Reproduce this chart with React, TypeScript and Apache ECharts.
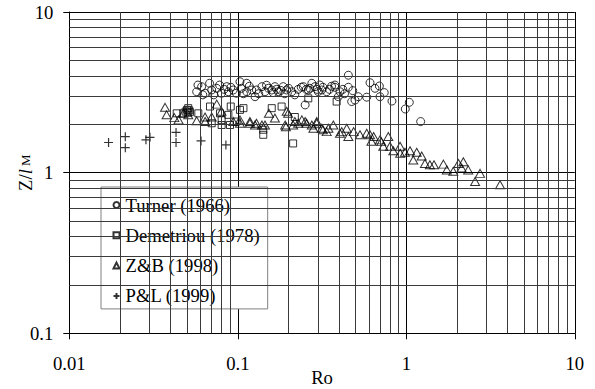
import React, { useEffect, useRef } from "react";
import * as echarts from "echarts";

// ---- data ----
const turnerRo = [0.058,0.057,0.061,0.064,0.068,0.070,0.075,0.078,0.080,0.086,0.088,0.094,0.098,0.103,0.105,0.113,0.113,0.121,0.1265,0.129,0.139,0.145,0.152,0.159,0.166,0.174,0.186,0.195,0.200,0.209,0.218,0.245,0.251,0.262,0.275,0.287,0.307,0.315,0.337,0.377,0.377,0.404,0.395,0.453,0.453,0.481,0.474,0.496,0.519,0.609,0.652,0.692,0.698,0.740,0.582,0.822,0.986,1.042,1.217,0.062,0.072,0.083,0.091,0.108,0.117,0.133,0.148,0.162,0.170,0.180,0.190,0.228,0.238,0.255,0.268,0.295,0.300,0.320,0.350,0.360,0.430,0.420];
const turnerZ = [3.51,3.19,3.43,3.12,3.60,3.27,3.35,3.51,3.12,3.43,3.19,3.27,3.12,3.68,3.35,3.60,3.19,3.27,2.97,3.27,3.43,3.19,3.35,3.27,3.43,3.19,3.43,3.27,3.35,3.19,3.05,3.43,2.64,3.27,3.60,3.43,3.51,3.27,3.19,3.51,3.40,3.19,2.97,4.04,3.40,3.24,2.77,2.83,2.97,3.63,3.35,3.46,2.97,3.15,2.95,2.79,2.49,2.74,2.08,3.05,3.05,3.30,3.40,3.10,3.45,3.10,3.50,3.15,3.30,3.25,3.10,3.30,3.40,3.30,3.35,3.30,3.20,3.40,3.30,3.45,3.10,3.30];

const demetriouRo = [0.0434,0.0475,0.049,0.050,0.0508,0.0515,0.052,0.0505,0.0583,0.0684,0.070,0.0784,0.0802,0.0802,0.0879,0.0908,0.0899,0.0984,0.103,0.108,0.1416,0.1416,0.159,0.182,0.213,0.218,0.262,0.386];
const demetriouZ = [2.34,2.34,2.40,2.46,2.52,2.44,2.38,2.36,2.34,2.58,2.03,2.34,2.13,1.98,2.29,2.58,1.98,2.08,2.46,2.52,1.85,1.72,2.52,2.58,1.52,2.22,2.90,2.77];

const zbRo = [0.037,0.0378,0.042,0.0445,0.0475,0.0508,0.057,0.0639,0.064,0.070,0.075,0.080,0.094,0.103,0.103,0.118,0.118,0.1265,0.129,0.139,0.145,0.153,0.166,0.193,0.191,0.195,0.199,0.213,0.218,0.228,0.240,0.256,0.251,0.275,0.281,0.294,0.294,0.315,0.32,0.337,0.345,0.369,0.404,0.414,0.443,0.453,0.487,0.531,0.582,0.609,0.621,0.64,0.698,0.71,0.730,0.782,0.80,0.837,0.918,0.92,0.982,1.052,1.10,1.153,1.234,1.29,1.38,1.46,1.66,1.74,1.90,2.04,2.18,2.13,2.33,2.56,2.74,3.60];
const zbZ = [2.55,2.29,2.20,2.13,2.34,2.29,2.10,2.22,2.08,2.22,2.67,2.41,2.08,2.13,2.03,2.08,2.03,1.98,2.03,1.98,1.98,2.34,2.19,1.93,1.98,2.41,2.34,1.98,2.08,2.03,2.13,2.03,2.08,1.98,1.89,2.08,2.03,1.89,1.85,1.80,1.89,1.98,1.76,1.80,1.89,1.68,1.80,1.72,1.76,1.72,1.57,1.68,1.60,1.56,1.46,1.68,1.46,1.37,1.46,1.32,1.34,1.37,1.20,1.34,1.27,1.14,1.12,1.12,1.13,1.04,1.02,1.14,1.17,1.07,1.04,0.88,0.99,0.84];

const plRo = [0.0171,0.0215,0.0215,0.0285,0.0301,0.043,0.043,0.0605,0.085];
const plZ = [1.54,1.675,1.43,1.60,1.66,1.78,1.54,1.575,1.487];

const seriesNames = ["Turner (1966)", "Demetriou (1978)", "Z&B (1998)", "P&L (1999)"];
const xTickLabels = ["0.01", "0.1", "1", "10"];
const yTickLabels = ["0.1", "1", "10"];
const minorMultipliers = [2, 3, 4, 5, 6, 7, 8, 9];
const xDecades = [0.01, 0.1, 1];
const yDecades = [0.1, 1];

const zip = (a: number[], b: number[]) => a.map((v, i) => [v, b[i]]);

const FONT = "'Liberation Serif', 'Times New Roman', serif";
const FS = 18.67;

export default function App() {
  const ref = useRef<HTMLDivElement>(null);
  useEffect(() => {
    if (!ref.current) return;
    const chart = echarts.init(ref.current, undefined, { renderer: "svg" });
    const gridX: any[] = [];
    xDecades.forEach((d) => minorMultipliers.forEach((m) => gridX.push({ xAxis: d * m })));
    const gridY: any[] = [];
    yDecades.forEach((d) => minorMultipliers.forEach((m) => gridY.push({ yAxis: d * m })));
    const hollow = { color: "rgba(255,255,255,0)", borderColor: "#000", borderWidth: 1 };
    chart.setOption({
      animation: false,
      backgroundColor: "#fff",
      textStyle: { fontFamily: FONT },
      grid: {
        left: 69.3,
        right: 20.2,
        top: 12,
        bottom: 55.7,
        containLabel: false,
        outerBoundsMode: "none",
      },
      legend: {
        data: seriesNames,
        orient: "vertical",
        left: 101,
        top: 187,
        padding: [8.5, 8, 3.5, 10],
        itemWidth: 6,
        itemHeight: 6,
        itemGap: 11.3,
        backgroundColor: "#fff",
        borderColor: "#808080",
        borderWidth: 1,
        borderRadius: 0,
        textStyle: { fontFamily: FONT, fontSize: FS, color: "#000", padding: [0, 0, 0, 1] },
      },
      xAxis: {
        type: "log",
        logBase: 10,
        min: 0.01,
        max: 10,
        name: "Ro",
        nameLocation: "middle",
        nameGap: 35,
        nameMoveOverlap: false,
        nameTextStyle: { fontFamily: FONT, fontSize: FS, color: "#000" },
        axisLine: { show: true, lineStyle: { color: "#000", width: 1 } },
        axisTick: { show: true, length: 6, lineStyle: { color: "#000" } },
        axisLabel: {
          margin: 21,
          fontFamily: FONT,
          fontSize: FS,
          color: "#000",
          formatter: (v: number) => xTickLabels[Math.round(Math.log10(v)) + 2],
        },
        splitLine: { show: true, lineStyle: { color: "#000", width: 1 } },
      },
      yAxis: {
        type: "log",
        logBase: 10,
        min: 0.1,
        max: 10,
        name: "{a|Z/}{b|l}{c| M}",
        nameLocation: "middle",
        nameRotate: 90,
        nameGap: 34,
        nameMoveOverlap: false,
        nameTextStyle: {
          color: "#000",
          fontFamily: FONT,
          fontSize: FS,
          rich: {
            a: { fontFamily: FONT, fontSize: FS, color: "#000" },
            b: { fontFamily: FONT, fontSize: FS, fontStyle: "italic", color: "#000" },
            c: { fontFamily: FONT, fontSize: 13, color: "#000" },
          },
        },
        axisLine: { show: true, lineStyle: { color: "#000", width: 1 } },
        axisTick: { show: true, length: 6, lineStyle: { color: "#000" } },
        axisLabel: {
          margin: 16,
          fontFamily: FONT,
          fontSize: FS,
          color: "#000",
          formatter: (v: number) => yTickLabels[Math.round(Math.log10(v)) + 1],
        },
        splitLine: { show: true, lineStyle: { color: "#000", width: 1 } },
      },
      series: [
        {
          name: "grid",
          type: "line",
          data: [],
          silent: true,
          z: 1,
          markLine: {
            silent: true,
            symbol: ["none", "none"],
            label: { show: false },
            emphasis: { disabled: true },
            lineStyle: { color: "#3a3a3a", width: 1, type: "solid" },
            data: [...gridX, ...gridY],
          },
        },
        {
          name: seriesNames[0],
          type: "scatter",
          symbol: "circle",
          symbolSize: 8,
          z: 3,
          itemStyle: hollow,
          data: zip(turnerRo, turnerZ),
        },
        {
          name: seriesNames[1],
          type: "scatter",
          symbol: "rect",
          symbolSize: 7,
          z: 3,
          itemStyle: hollow,
          data: zip(demetriouRo, demetriouZ),
        },
        {
          name: seriesNames[2],
          type: "scatter",
          symbol: "triangle",
          symbolSize: [9, 8],
          z: 3,
          itemStyle: hollow,
          data: zip(zbRo, zbZ),
        },
        {
          name: seriesNames[3],
          type: "scatter",
          symbol: "path://M0,5L10,5M5,0L5,10",
          symbolSize: 9,
          z: 3,
          itemStyle: { color: "none", borderColor: "#000", borderWidth: 1.2 },
          data: zip(plRo, plZ),
        },
      ],
    });
    return () => chart.dispose();
  }, []);
  return (
    <div
      ref={ref}
      style={{ position: "fixed", left: 0, top: 0, width: 595, height: 389 }}
    />
  );
}
